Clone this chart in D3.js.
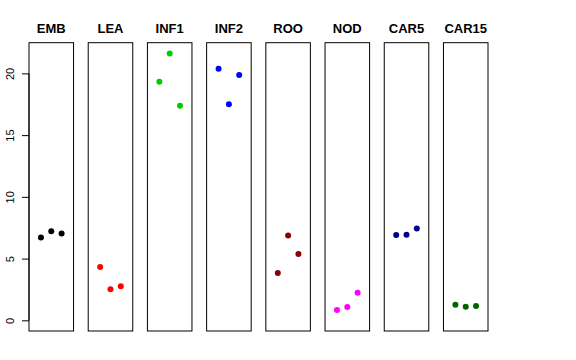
<!DOCTYPE html>
<html>
<head>
<meta charset="utf-8">
<script src="https://cdn.jsdelivr.net/npm/d3@7"></script>
<style>
  body { margin: 0; background: #fff; }
  svg { display: block; }
  text { font-family: "Liberation Sans", Arial, sans-serif; }
</style>
</head>
<body>
<svg id="chart"></svg>
<script>
// tissues, one panel each
var tissues = ["EMB", "LEA", "INF1", "INF2", "ROO", "NOD", "CAR5", "CAR15"];
var colors = ["#000000", "#FF0000", "#00CD00", "#0000FF", "#8B0000", "#FF00FF", "#00008B", "#006400"];
// three replicates per tissue
var rep1 = [6.70, 4.32, 19.33, 20.38, 3.84, 0.84, 6.92, 1.27];
var rep2 = [7.22, 2.51, 21.62, 17.49, 6.86, 1.08, 6.94, 1.10];
var rep3 = [7.03, 2.76, 17.38, 19.87, 5.38, 2.24, 7.43, 1.16];
var yTicks = [0, 5, 10, 15, 20];

var width = 576, height = 360;
var svg = d3.select("#chart").attr("width", width).attr("height", height);

var plotTop = 42.7, plotBottom = 331;

// panels
var xBand = d3.scaleBand().domain(tissues).range([29, 488]).paddingInner(0.2476).paddingOuter(0);

// y limits like R: c(0, max) padded 4%
var ymax = d3.max(rep1.concat(rep2, rep3));
var pad = ymax * 0.04;
var y = d3.scaleLinear().domain([0 - pad, ymax + pad]).range([plotBottom, plotTop]);

// within a panel: points at 1,2,3 on xlim c(0,4)
var xIn = d3.scaleLinear().domain([-0.16, 4.16]).range([0, xBand.bandwidth()]);

var data = tissues.map(function(t, i) {
  return { name: t, color: colors[i], vals: [rep1[i], rep2[i], rep3[i]] };
});

var panels = svg.selectAll(".panel")
  .data(data)
  .enter()
  .append("g")
  .attr("class", "panel")
  .attr("transform", d => "translate(" + xBand(d.name) + ",0)");

panels.append("rect")
  .attr("x", 0)
  .attr("y", plotTop)
  .attr("width", xBand.bandwidth())
  .attr("height", plotBottom - plotTop)
  .attr("fill", "none")
  .attr("stroke", "#000")
  .attr("stroke-width", 1);

panels.append("text")
  .attr("x", xBand.bandwidth() / 2)
  .attr("y", 33)
  .attr("text-anchor", "middle")
  .style("font-size", "13px")
  .style("font-weight", "bold")
  .text(d => d.name);

panels.selectAll("circle")
  .data(d => d.vals.map(v => ({ v: v, color: d.color })))
  .enter()
  .append("circle")
  .attr("cx", (d, i) => xIn(i + 1))
  .attr("cy", d => y(d.v))
  .attr("r", 3)
  .attr("fill", d => d.color);

// y axis on the first panel
var axis = d3.axisLeft(y).tickValues(yTicks).tickSize(7);
var gAxis = svg.append("g")
  .attr("transform", "translate(" + xBand(tissues[0]) + ",0)")
  .call(axis);
gAxis.select(".domain").attr("d", "M0," + y(0) + "V" + y(20)).attr("stroke", "#000");
gAxis.selectAll("line").attr("stroke", "#000");
gAxis.selectAll(".tick text")
  .style("font-size", "11px")
  .style("font-family", "'Liberation Sans', Arial, sans-serif")
  .attr("fill", "#000")
  .attr("x", 0)
  .attr("dy", null)
  .attr("text-anchor", "middle")
  .attr("transform", "translate(-15,0) rotate(-90)");
</script>
</body>
</html>
